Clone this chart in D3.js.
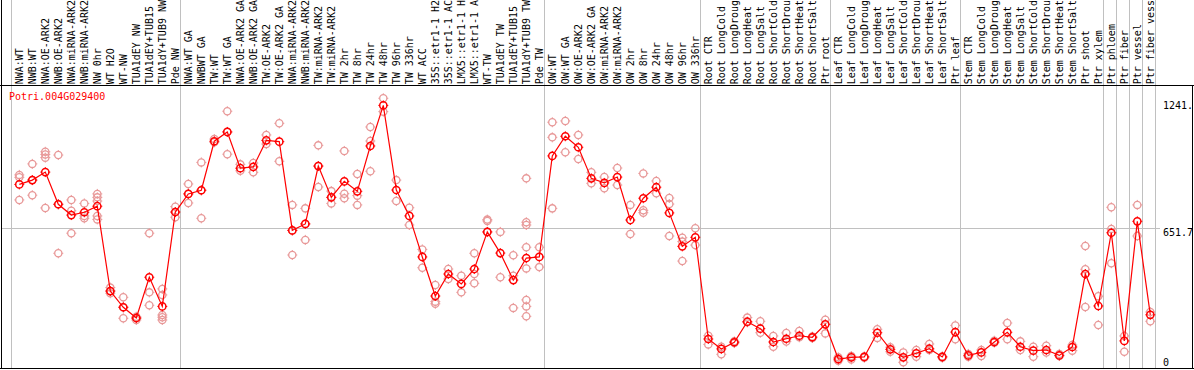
<!DOCTYPE html>
<html><head><meta charset="utf-8">
<script src="https://cdn.jsdelivr.net/npm/d3@7"></script>
<style>
html,body{margin:0;padding:0;background:#fff;}
svg{display:block;}
text{font-family:"DejaVu Sans Mono","Liberation Mono",monospace;font-size:10px;}
</style></head>
<body>
<script>
const title = "Potri.004G029400";
const labels = [
"NWA:WT","NWB:WT","NWA:OE-ARK2","NWB:OE-ARK2","NWA:miRNA-ARK2","NWB:miRNA-ARK2","NW 0hr","WT H2O","WT-NW","TUA1dEY NW","TUA1dEY+TUB15 NW","TUA1dY+TUB9 NW","Pde NW",
"NWA:WT GA","NWBWT GA","TW:WT","TW:WT GA","NWA:OE-ARK2 GA","NWB:OE-ARK2 GA","TW:OE-ARK2","TW:OE-ARK2 GA","NWA:miRNA-ARK2 GA","NWB:miRNA-ARK2 GA","TW:miRNA-ARK2","TW:miRNA-ARK2","TW 2hr","TW 8hr","TW 24hr","TW 48hr","TW 96hr","TW 336hr","WT ACC","35S::etr1-1 H2O","35S::etr1-1 ACC","LMX5::etr1-1 H2O","LMX5::etr1-1 ACC","WT-TW","TUA1dEY TW","TUA1dEY+TUB15 TW","TUA1dY+TUB9 TW","Pde TW",
"OW:WT","OW:WT GA","OW:OE-ARK2","OW:OE-ARK2 GA","OW:miRNA-ARK2","OW:miRNA-ARK2","OW 2hr","OW 8hr","OW 24hr","OW 48hr","OW 96hr","OW 336hr",
"Root CTR","Root LongCold","Root LongDrought","Root LongHeat","Root LongSalt","Root ShortCold","Root ShortDrought","Root ShortHeat","Root ShortSalt","Ptr root",
"Leaf CTR","Leaf LongCold","Leaf LongDrought","Leaf LongHeat","Leaf LongSalt","Leaf ShortCold","Leaf ShortDrought","Leaf ShortHeat","Leaf ShortSalt","Ptr leaf",
"Stem CTR","Stem LongCold","Stem LongDrought","Stem LongHeat","Stem LongSalt","Stem ShortCold","Stem ShortDrought","Stem ShortHeat","Stem ShortSalt","Ptr shoot","Ptr xylem",
"Ptr phloem","Ptr fiber","Ptr vessel","Ptr fiber vessel"];

// group separator positions (column index where a new group starts)
const groupBreaks = [0,13,41,53,63,73,84,85,86,87,88];

const means = [
855,875,912,763,713,726,754,361,286,236,425,290,727,
811,828,1055,1098,930,936,1059,1053,642,672,940,795,869,823,1033,1221,829,709,519,338,440,394,463,635,537,412,514,519,
987,1078,1027,883,862,889,690,791,842,723,568,610,
139,93,124,219,187,125,140,154,147,207,
46,54,56,168,91,54,73,94,56,171,
63,77,125,170,103,85,88,63,102,440,292,
631,130,684,251];

const reps = [
[899,888,783],[950,805,875],[1006,994,979,746],[991,536,763],[783,733,629],[767,698,709],[811,795,778,709,693],[377,351,361],[332,235,286],[242,227,236],[629,355,295],[371,343,250,240,227],[752,703,727],
[857,769,811],[957,698,828],[1065,1050],[1194,995,1098],[948,918],[954,911],[1084,1042],[1138,962],[760,528,642],[744,598,672],[1036,843,940],[824,767,795],[1010,812,791],[903,803,760],[1121,1056,916],[1254,1192],[875,778],[747,667],[554,469],[389,312,302],[463,417],[432,355],[536,440,397],[692,686,634],[635,425],[527,432,283],[883,680,667,564,466,320,290,244],[564,472],
[1143,1073,744],[1149,1004],[1084,973],[911,860],[889,837],[931,852],[760,625],[906,735,724],[871,814],[792,764,616],[608,590,500],[652,574],
[154,114],[103,68],[128,120],[238,216],[221,168],[153,103],[167,127],[176,147],[150,144],[228,165],
[54,38],[60,44],[58,52],[184,144],[80,101],[77,31],[88,57],[116,88],[58,52],[202,138],
[70,57],[88,60],[131,122],[213,138],[128,88],[103,57],[108,76],[70,60],[111,85],[570,462,287],[337,204],
[749,649,490],[153,80],[760,616],[264,221]];

const yTicks = [0, 651.7, 1241];
const yTickLabels = ["0", "651.7", "1241."];
const yMax = 1303.4;
const maxLabelChars = 14; // header is only tall enough for 14 characters

const W = 1194, H = 370;
const svg = d3.select("body").append("svg").attr("width", W).attr("height", H);

const x = d3.scaleBand().domain(d3.range(labels.length)).range([11.2, 11.2 + 13*labels.length]);
const y = d3.scaleLinear().domain([0, yMax]).range([369, 87.6]);
const cx = i => x(i) + 8.1;
const sep = k => Math.round(k < labels.length ? x(k) : x.range()[1]) + 0.5;

const grey = "#c0c0c0";
// group separators
svg.append("g").selectAll("line").data(groupBreaks).join("line")
  .attr("x1", sep).attr("x2", sep).attr("y1", 0).attr("y2", 369)
  .attr("stroke", grey).attr("stroke-width", 1);
// mid grid line
svg.append("line").attr("x1", 1).attr("x2", 1160)
  .attr("y1", Math.round(y(yTicks[1])) + 0.5).attr("y2", Math.round(y(yTicks[1])) + 0.5)
  .attr("stroke", grey);

// borders
svg.append("line").attr("x1",0).attr("x2",W).attr("y1",85.5).attr("y2",85.5).attr("stroke","#000");
svg.append("line").attr("x1",0).attr("x2",W).attr("y1",368.5).attr("y2",368.5).attr("stroke","#000");
svg.append("line").attr("x1",1.5).attr("x2",1.5).attr("y1",0).attr("y2",369).attr("stroke","#000");
svg.append("line").attr("x1",1192.5).attr("x2",1192.5).attr("y1",85).attr("y2",369).attr("stroke","#000");

// header labels (shown truncated as in the reference header)
svg.append("g").selectAll("text").data(labels).join("text")
  .attr("transform", (d,i) => `translate(${cx(i)+3.6},84.3) rotate(-90)`)
  .attr("fill", "#000")
  .text(d => d.length > maxLabelChars ? d.slice(0, maxLabelChars) : d)
  .append("title").text(d => d);

// title
svg.append("text").attr("x", 9).attr("y", 100).attr("fill", "#ff0000").text(title);

// y labels
svg.append("g").selectAll("text").data(yTicks).join("text")
  .attr("x", 1163)
  .attr("y", d => Math.min(y(d) + 8, 366))
  .attr("fill", "#000")
  .text((d,i) => yTickLabels[i]);

function marker(g, px, py, color, sw) {
  g.append("circle").attr("cx", px).attr("cy", py).attr("r", 3.6)
    .attr("fill", "none").attr("stroke", color).attr("stroke-width", sw);
  g.append("path").attr("d",
    `M${px-5},${py}h1.4M${px+3.6},${py}h1.4M${px},${py-5}v1.4M${px},${py+3.6}v1.4`)
    .attr("stroke", color).attr("stroke-width", 1);
}

// replicates
const repColor = "#e89898";
const gr = svg.append("g");
reps.forEach((arr, i) => arr.forEach(v => marker(gr, cx(i), y(v), repColor, 1.3)));

// mean line
svg.append("path").datum(means)
  .attr("d", d3.line().x((d,i) => cx(i)).y(d => y(d)))
  .attr("fill", "none").attr("stroke", "#ff0000").attr("stroke-width", 1.2);

// mean markers
const gm = svg.append("g");
means.forEach((v, i) => marker(gm, cx(i), y(v), "#ff0000", 1.5));
</script>
</body></html>
